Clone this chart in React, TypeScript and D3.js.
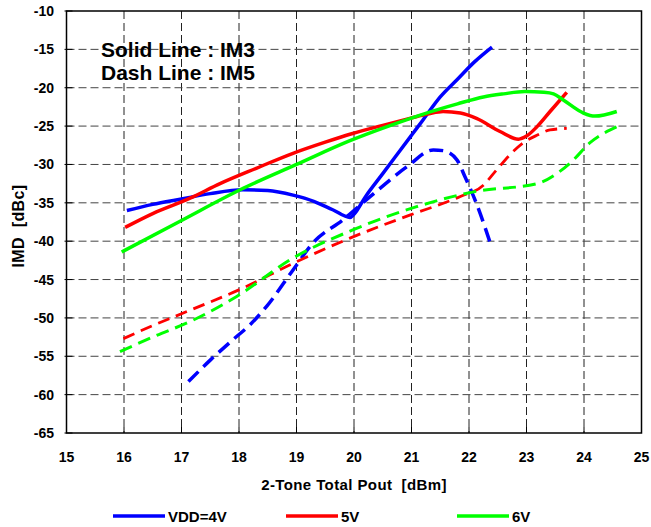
import React from 'react';
import * as d3 from 'd3';

// x ticks, y ticks
const xTicks = [15, 16, 17, 18, 19, 20, 21, 22, 23, 24, 25];
const yTicks = [-10, -15, -20, -25, -30, -35, -40, -45, -50, -55, -60, -65];

// [Pout, IMD]
const im3_4V = [
  [16.05, -36.0], [16.5, -35.2], [17.0, -34.5], [17.5, -33.8], [18.07, -33.3],
  [18.5, -33.4], [18.94, -34.0], [19.3, -34.8], [19.63, -35.9], [19.93, -36.9],
  [20.0, -36.5], [20.2, -34.2], [20.5, -31.2], [20.7, -29.2], [21.0, -26.2],
  [21.2, -24.2], [21.5, -21.2], [21.8, -18.9], [22.1, -16.6], [22.4, -14.7],
];
const im5_4V = [
  [17.12, -58.3], [17.5, -55.5], [17.9, -52.8], [18.19, -50.9], [18.48, -48.5],
  [18.94, -43.75], [19.29, -40.2], [19.81, -37.2], [20.28, -34.2], [20.92, -30.3],
  [21.38, -28.1], [21.55, -28.2], [21.79, -29.4], [21.93, -31.6], [22.13, -35.1],
  [22.39, -40.7],
];
const im3_5V = [
  [16.02, -38.2], [16.5, -36.4], [17.15, -34.4], [17.67, -32.5], [18.3, -30.5],
  [18.94, -28.55], [19.5, -27.1], [19.96, -26.0], [20.5, -24.9], [20.97, -24.0],
  [21.3, -23.4], [21.55, -23.1], [21.85, -23.3], [22.13, -24.0], [22.54, -25.7],
  [22.86, -26.7], [23.0, -26.3], [23.18, -25.1], [23.41, -23.1], [23.7, -20.6],
];
const im5_5V = [
  [15.99, -52.7], [16.5, -51.0], [17.15, -49.0], [18.07, -46.1], [18.94, -42.9],
  [19.93, -39.6], [20.97, -36.6], [21.84, -34.2], [22.25, -32.7], [22.48, -30.7],
  [22.77, -28.3], [22.94, -27.2], [23.18, -26.2], [23.41, -25.5], [23.7, -25.3],
];
const im3_6V = [
  [15.96, -41.4], [17.0, -37.3], [18.02, -33.3], [19.0, -30.0], [19.93, -26.9],
  [20.6, -25.0], [21.26, -23.3], [21.8, -22.1], [22.25, -21.2], [22.6, -20.8],
  [22.97, -20.5], [23.3, -20.6], [23.47, -20.8], [23.64, -21.6], [23.99, -23.3],
  [24.19, -23.7], [24.57, -23.1],
];
const im5_6V = [
  [15.93, -54.4], [16.5, -52.5], [17.2, -50.3], [17.96, -47.2], [18.94, -42.2],
  [19.99, -38.5], [21.09, -35.5], [22.13, -33.5], [23.18, -32.5], [23.58, -30.9],
  [23.79, -29.6], [24.1, -27.2], [24.57, -25.1],
];

const legendNames = ['VDD=4V', '5V', '6V'];
const colors = ['#0000ff', '#ff0000', '#00ff00'];

const W = 651;
const H = 527;
const margin = { top: 11, right: 9.5, bottom: 94, left: 66.5 };

export default function App() {
  const x = d3.scaleLinear().domain([15, 25]).range([margin.left, W - margin.right]);
  const y = d3.scaleLinear().domain([-65, -10]).range([H - margin.bottom, margin.top]);

  const line = d3.line<number[]>()
    .x(d => x(d[0]))
    .y(d => y(d[1]))
    .curve(d3.curveMonotoneX);

  const series = [
    { data: im3_4V, color: colors[0], dash: null, w: 3.5 },
    { data: im3_5V, color: colors[1], dash: null, w: 3.5 },
    { data: im3_6V, color: colors[2], dash: null, w: 3.5 },
    { data: im5_4V, color: colors[0], dash: '14,7', w: 3.5 },
    { data: im5_5V, color: colors[1], dash: '12,7', w: 2.8 },
    { data: im5_6V, color: colors[2], dash: '13,7', w: 3 },
  ];

  const font = '"Liberation Sans", Arial, sans-serif';
  const [x0, x1] = x.range();
  const [y0, y1] = y.range();
  const legendX = [113, 286, 457];

  return (
    <svg width={W} height={H} style={{ position: 'absolute', left: 0, top: 0 }}
      fontFamily={font} fontWeight="bold">
      <rect width={W} height={H} fill="#fff" />

      {/* grid */}
      {xTicks.slice(1, -1).map(t => (
        <line key={'gx' + t} x1={x(t)} x2={x(t)} y1={y1} y2={y0}
          stroke="#222" strokeWidth={1} strokeDasharray="8,4" />
      ))}
      {yTicks.slice(1, -1).map(t => (
        <line key={'gy' + t} x1={x0} x2={x1} y1={y(t)} y2={y(t)}
          stroke="#444" strokeWidth={1} strokeDasharray="8,4" />
      ))}

      {/* ticks */}
      {xTicks.map(t => (
        <g key={'tx' + t}>
          <line x1={x(t)} x2={x(t)} y1={y0} y2={y0 - 6} stroke="#000" />
          <text x={x(t)} y={462} textAnchor="middle" fontSize={14}>{t}</text>
        </g>
      ))}
      {yTicks.map(t => (
        <g key={'ty' + t}>
          <line x1={x0 - 2} x2={x0 + 6} y1={y(t)} y2={y(t)} stroke="#000" />
          <text x={54} y={y(t) + 5} textAnchor="end" fontSize={14}>{t}</text>
        </g>
      ))}

      {/* data */}
      {series.map((s, i) => (
        <path key={i} d={line(s.data) || ''} fill="none" stroke={s.color}
          strokeWidth={s.w} strokeDasharray={s.dash || undefined} />
      ))}

      <rect x={x0} y={y1} width={x1 - x0} height={y0 - y1} fill="none" stroke="#000" strokeWidth={1.5} />

      <text x={101} y={56.5} fontSize={21}>Solid Line : IM3</text>
      <text x={101} y={80} fontSize={21}>Dash Line : IM5</text>

      <text x={354} y={490} textAnchor="middle" fontSize={15} letterSpacing={0.4}
        style={{ whiteSpace: 'pre' }}>{'2-Tone Total Pout  [dBm]'}</text>
      <text transform="translate(24,226) rotate(-90)" textAnchor="middle" fontSize={16}
        letterSpacing={0.4} style={{ whiteSpace: 'pre' }}>{'IMD  [dBc]'}</text>

      {legendNames.map((n, i) => (
        <g key={n}>
          <line x1={legendX[i]} x2={legendX[i] + 52} y1={516} y2={516}
            stroke={colors[i]} strokeWidth={3.5} />
          <text x={legendX[i] + 55} y={522} fontSize={15}>{n}</text>
        </g>
      ))}
    </svg>
  );
}
